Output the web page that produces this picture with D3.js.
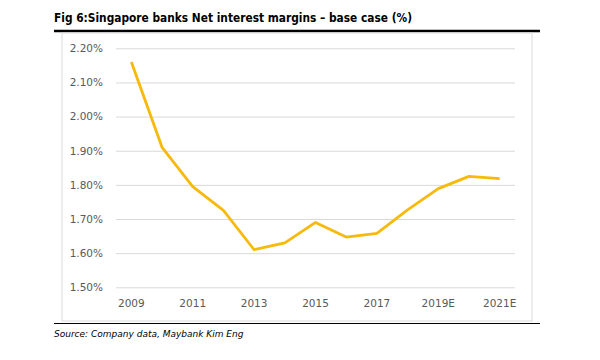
<!DOCTYPE html>
<html><head><meta charset="utf-8">
<script src="https://cdn.jsdelivr.net/npm/d3@7"></script>
<style>body{margin:0;background:#fff}</style>
</head><body>
<svg id="c" width="600" height="360"></svg>
<script>
const categories = ["2009","2010","2011","2012","2013","2014","2015","2016","2017","2018","2019E","2020E","2021E"];
const nimValues = [2.16,1.91,1.795,1.725,1.61,1.63,1.69,1.647,1.658,1.727,1.789,1.825,1.818];
const yTicks = [1.5,1.6,1.7,1.8,1.9,2.0,2.1,2.2];
const shownLabels = ["2009","2011","2013","2015","2017","2019E","2021E"];
const titleText = "Fig 6:Singapore banks Net interest margins \u2013 base case (%)";
const sourceText = "Source: Company data, Maybank Kim Eng";

const svg = d3.select("#c");
const font = "Tahoma, 'DejaVu Sans', sans-serif";

svg.append("text").attr("x",54).attr("y",22).attr("font-family","'DejaVu Sans', sans-serif")
  .attr("font-weight","bold").attr("font-size",12.5).attr("fill","#000")
  .attr("textLength",358).attr("lengthAdjust","spacingAndGlyphs")
  .text(titleText);
svg.append("line").attr("x1",54).attr("x2",540).attr("y1",31).attr("y2",31)
  .attr("stroke","#000").attr("stroke-width",2.5);
svg.append("rect").attr("x",62).attr("y",33).attr("width",470).attr("height",288)
  .attr("fill","#fff").attr("stroke","#d9d9d9").attr("stroke-width",1);
svg.append("line").attr("x1",54).attr("x2",540).attr("y1",323.5).attr("y2",323.5)
  .attr("stroke","#000").attr("stroke-width",1.2);
svg.append("text").attr("x",54).attr("y",337).attr("font-family",font)
  .attr("font-style","italic").attr("font-size",9).attr("fill","#000")
  .text(sourceText);

const x = d3.scaleBand().domain(categories).range([116,515]);
const y = d3.scaleLinear().domain([1.5,2.2]).range([287.3,48.3]);

const gy = svg.append("g").attr("transform","translate(116,0)")
  .call(d3.axisLeft(y).tickValues(yTicks).tickFormat(d=>d3.format(".2f")(d)+"%").tickSize(-399).tickPadding(13));
gy.select(".domain").remove();
gy.selectAll(".tick line").attr("stroke","#d9d9d9");
gy.selectAll(".tick text").attr("fill","#595959").attr("font-size",10.5).attr("font-family",font);

const gx = svg.append("g").attr("transform","translate(0,287.3)")
  .call(d3.axisBottom(x).tickValues(shownLabels).tickSize(0).tickPadding(12));
gx.select(".domain").remove();
gx.selectAll(".tick text").attr("fill","#595959").attr("font-size",10.5).attr("font-family",font);

const line = d3.line().x((d,i)=>x(categories[i])+x.bandwidth()/2).y(d=>y(d));
svg.append("path").datum(nimValues).attr("d",line).attr("fill","none")
  .attr("stroke","#F7BA0B").attr("stroke-width",2.8).attr("stroke-linejoin","round");
</script>
</body></html>
